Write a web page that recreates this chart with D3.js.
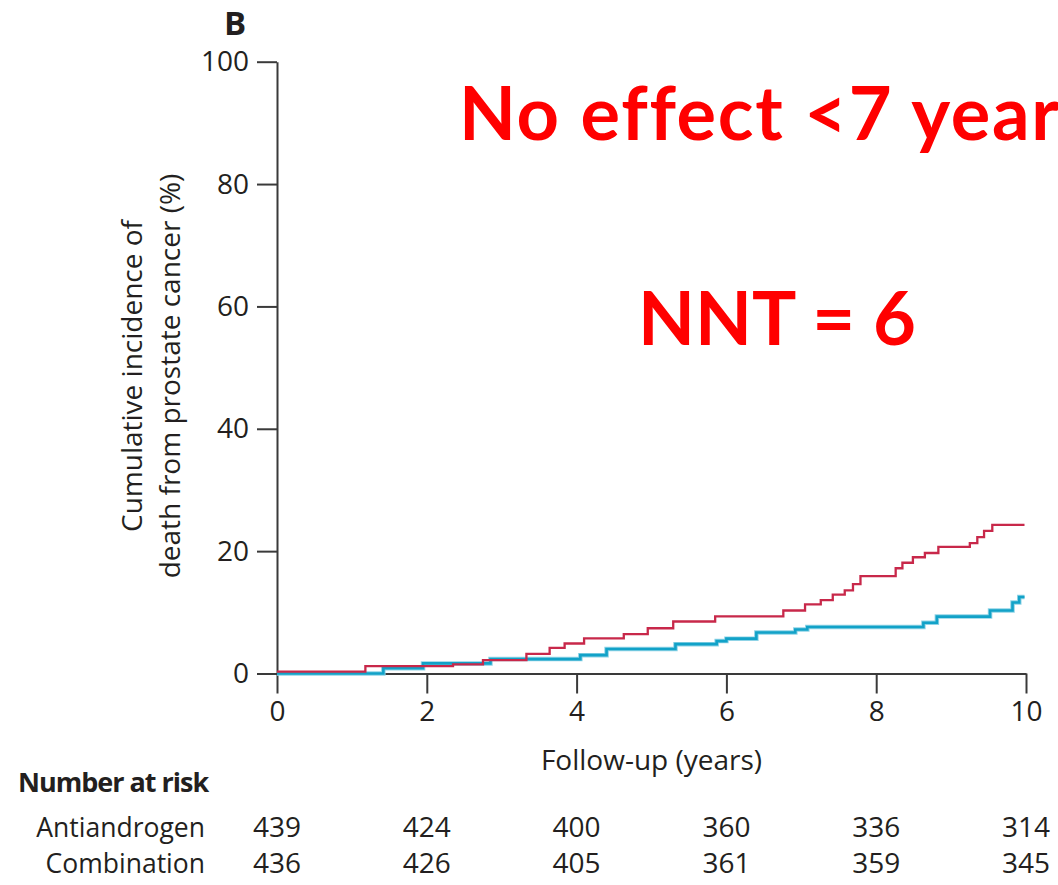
<!DOCTYPE html>
<html>
<head>
<meta charset="utf-8">
<script src="https://cdn.jsdelivr.net/npm/d3@7"></script>
<style>
  html, body { margin: 0; padding: 0; background: #fff; }
  svg { display: block; }
</style>
</head>
<body>
<svg id="chart" width="1058" height="885"></svg>
<script>
// ---- data ----
const xTicks = [0, 2, 4, 6, 8, 10];
const yTicks = [0, 20, 40, 60, 80, 100];

const antiTimes  = [0, 1.18, 2.35, 2.75, 3.33, 3.64, 3.84, 4.10, 4.63, 4.95, 5.29, 5.85, 6.76, 7.05, 7.26, 7.42, 7.58, 7.69, 7.79, 8.26, 8.35, 8.49, 8.65, 8.83, 9.25, 9.35, 9.44, 9.55, 9.98];
const antiValues = [0.3, 1.2, 1.5, 2.2, 3.2, 4.2, 4.9, 5.75, 6.45, 7.4, 8.5, 9.35, 10.3, 11.3, 12.0, 12.9, 13.6, 14.6, 15.9, 17.2, 18.1, 19.0, 19.7, 20.7, 21.3, 22.3, 23.3, 24.3, 24.3];

const comboTimes  = [0, 1.42, 1.95, 2.85, 4.05, 4.40, 5.32, 5.87, 6.0, 6.40, 6.92, 7.08, 8.63, 8.81, 9.52, 9.82, 9.91, 9.98];
const comboValues = [0, 0.85, 1.65, 2.35, 3.0, 4.0, 4.8, 5.3, 5.7, 6.7, 7.2, 7.6, 8.3, 9.3, 10.3, 11.6, 12.5, 12.5];

const groups = ["Antiandrogen", "Combination"];
const riskAnti  = [439, 424, 400, 360, 336, 314];
const riskCombo = [436, 426, 405, 361, 359, 345];

const panelLabel = "B";
const yTitle = ["Cumulative incidence of", "death from prostate cancer (%)"];
const xTitle = "Follow-up (years)";
const riskTitle = "Number at risk";
const note1 = "No effect <7 years";
const note2 = "NNT = 6";

// ---- drawing ----
const svg = d3.select("#chart");
const ink = "#231f20";
const font = "'Open Sans', 'Noto Sans', sans-serif";

const x = d3.scaleLinear().domain([0, 10]).range([277, 1026]);
const y = d3.scaleLinear().domain([0, 100]).range([673.5, 61.7]);

// axes
const gx = svg.append("g").attr("transform", `translate(0,${y(0)})`)
  .call(d3.axisBottom(x).tickValues(xTicks).tickSize(20).tickPadding(8).tickSizeOuter(0));
const gy = svg.append("g").attr("transform", `translate(${x(0)},0)`)
  .call(d3.axisLeft(y).tickValues(yTicks).tickSize(20).tickPadding(8).tickSizeOuter(0));
[gx, gy].forEach(g => {
  g.select(".domain").attr("stroke", "#3a3a3a").attr("stroke-width", 2);
  g.selectAll(".tick line").attr("stroke", "#3a3a3a").attr("stroke-width", 2);
  g.selectAll(".tick text").attr("fill", ink).style("font-family", font).style("font-size", "28px");
});

// curves
const line = d3.line().x(d => x(d[0])).y(d => y(d[1])).curve(d3.curveStepAfter);
const comboData = comboTimes.map((t, i) => [t, comboValues[i]]);
const antiData = antiTimes.map((t, i) => [t, antiValues[i]]);

svg.append("path").datum(comboData).attr("d", line)
  .attr("fill", "none").attr("stroke", "#8fd3e6").attr("stroke-width", 4.5);
svg.append("path").datum(comboData).attr("d", line)
  .attr("fill", "none").attr("stroke", "#12a2c8").attr("stroke-width", 2.6);
svg.append("path").datum(antiData).attr("d", line)
  .attr("fill", "none").attr("stroke", "#c8284a").attr("stroke-width", 2.3);

// panel label
svg.append("text").attr("x", 224).attr("y", 35).text(panelLabel)
  .attr("fill", ink).style("font-family", font).style("font-weight", 700).style("font-size", "33px");

// y title
const yt = svg.append("text").attr("transform", "translate(0,376) rotate(-90)")
  .attr("text-anchor", "middle").attr("fill", ink)
  .style("font-family", font).style("font-size", "28px");
yt.selectAll("tspan").data(yTitle).join("tspan")
  .attr("x", 0).attr("y", (d, i) => 142 + i * 38).text(d => d);

// x title
svg.append("text").attr("x", x(5)).attr("y", 770).attr("text-anchor", "middle")
  .attr("fill", ink).style("font-family", font).style("font-size", "28px").text(xTitle);

// risk table
svg.append("text").attr("x", 18).attr("y", 792).text(riskTitle)
  .attr("fill", ink).style("font-family", font).style("font-weight", 700)
  .style("font-size", "27px").style("letter-spacing", "-1px");
const rowY = d3.scalePoint().domain(groups).range([836.5, 872.5]);
svg.selectAll("text.grp").data(groups).join("text").attr("class", "grp")
  .attr("x", 205).attr("y", d => rowY(d)).attr("text-anchor", "end")
  .attr("fill", ink).style("font-family", font).style("font-size", "26.5px").text(d => d);
[riskAnti, riskCombo].forEach((arr, gi) => {
  svg.selectAll(`text.r${gi}`).data(arr).join("text").attr("class", `r${gi}`)
    .attr("x", (d, i) => x(xTicks[i])).attr("y", rowY(groups[gi]))
    .attr("text-anchor", "middle").attr("fill", ink)
    .style("font-family", font).style("font-size", "28px").text(d => d);
});

// red annotations
const n1 = svg.append("text").attr("x", 459).attr("y", 140).text(note1)
  .attr("fill", "#ff0000").style("font-family", "Lato, 'Open Sans', sans-serif")
  .style("font-weight", 700).style("font-size", "74px");
// widen spacing so that "No effect <7 yea" spans about 568px like the reference
try {
  const w16 = n1.node().getSubStringLength(0, 16);
  const ls = Math.max(0, (568 - w16) / 15);
  n1.style("letter-spacing", ls + "px");
} catch (e) {}
svg.append("text").attr("x", 638).attr("y", 345).text(note2)
  .attr("fill", "#ff0000").style("font-family", "Lato, 'Open Sans', sans-serif")
  .style("font-weight", 700).style("font-size", "74px");
</script>
</body>
</html>
